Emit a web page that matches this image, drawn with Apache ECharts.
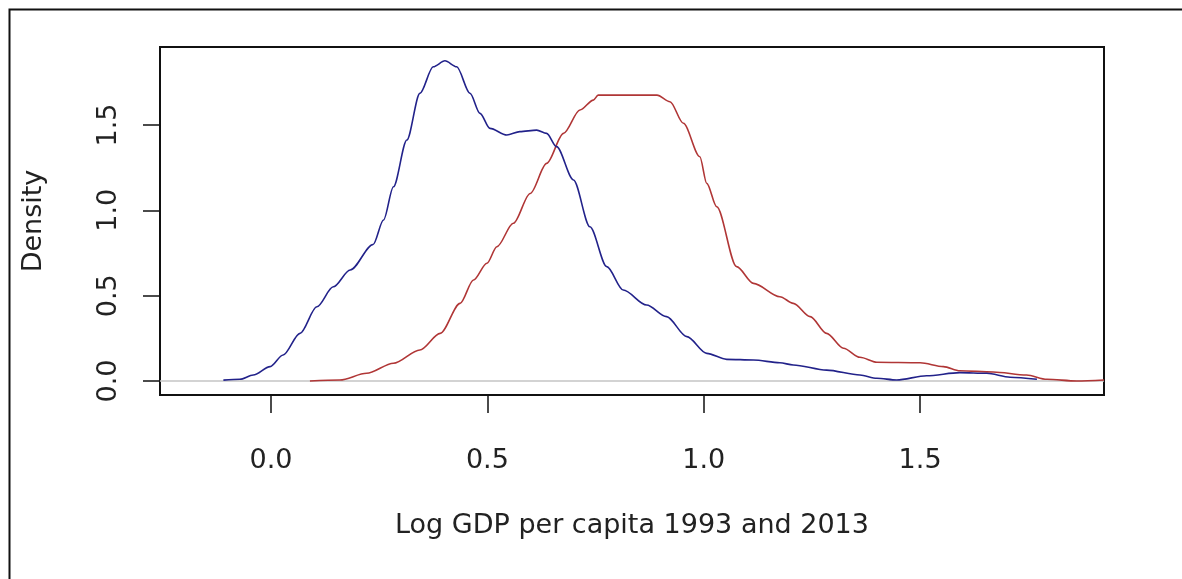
<!DOCTYPE html>
<html><head><meta charset="utf-8">
<script src="https://cdn.jsdelivr.net/npm/echarts@6/dist/echarts.min.js"></script>
<style>html,body{margin:0;padding:0;background:#fff}#c{width:1182px;height:579px}</style>
</head><body><div id="c"></div>
<script>
const xTicks = [0, 0.5, 1.0, 1.5];
const yTicks = [0, 0.5, 1.0, 1.5];
const xTitle = 'Log GDP per capita 1993 and 2013';
const yTitle = 'Density';

const blueX = [-0.110, -0.072, -0.041, -0.002, 0.028, 0.067, 0.106, 0.144, 0.183, 0.236, 0.260, 0.283, 0.314, 0.344, 0.375, 0.402, 0.429, 0.460, 0.483, 0.506, 0.545, 0.575, 0.614, 0.637, 0.660, 0.699, 0.737, 0.776, 0.814, 0.868, 0.914, 0.961, 1.007, 1.053, 1.115, 1.176, 1.207, 1.284, 1.361, 1.400, 1.446, 1.515, 1.592, 1.654, 1.708, 1.770];
const blueY = [0.005, 0.010, 0.035, 0.084, 0.152, 0.279, 0.435, 0.552, 0.650, 0.800, 0.943, 1.138, 1.412, 1.685, 1.841, 1.876, 1.841, 1.685, 1.568, 1.480, 1.441, 1.461, 1.470, 1.451, 1.373, 1.178, 0.904, 0.670, 0.533, 0.445, 0.377, 0.260, 0.162, 0.127, 0.123, 0.107, 0.094, 0.064, 0.035, 0.016, 0.006, 0.031, 0.049, 0.045, 0.022, 0.010];

const redX = [0.090, 0.159, 0.221, 0.283, 0.344, 0.391, 0.437, 0.468, 0.499, 0.522, 0.560, 0.599, 0.637, 0.676, 0.714, 0.745, 0.756, 0.892, 0.922, 0.953, 0.991, 1.007, 1.030, 1.076, 1.115, 1.176, 1.207, 1.246, 1.284, 1.323, 1.361, 1.400, 1.500, 1.554, 1.592, 1.669, 1.746, 1.793, 1.862, 1.925];
const redY = [0.000, 0.006, 0.045, 0.104, 0.182, 0.279, 0.455, 0.592, 0.690, 0.787, 0.924, 1.099, 1.275, 1.451, 1.588, 1.646, 1.675, 1.675, 1.636, 1.510, 1.314, 1.158, 1.021, 0.670, 0.572, 0.494, 0.455, 0.377, 0.279, 0.192, 0.139, 0.110, 0.107, 0.084, 0.060, 0.053, 0.035, 0.010, 0.000, 0.006];

const pairs = (xs, ys) => xs.map((x, i) => [x, ys[i]]);
const font = 'DejaVu Sans, Liberation Sans, sans-serif';
const chart = echarts.init(document.getElementById('c'), null, {renderer: 'canvas'});
chart.setOption({
  animation: false,
  backgroundColor: '#fff',
  graphic: [{
    type: 'rect', left: 7, top: 7, shape: {x: 0, y: 0, width: 1200, height: 600},
    style: {fill: 'none', stroke: '#111', lineWidth: 2}, silent: true, z: -1
  }],
  grid: {left: 160, top: 47, right: 78, bottom: 184, show: true, borderColor: '#111', borderWidth: 2, backgroundColor: 'transparent'},
  xAxis: {
    type: 'value', min: -0.2565, max: 1.925,
    name: xTitle, nameLocation: 'middle', nameGap: 117,
    nameTextStyle: {fontFamily: font, fontSize: 27, color: '#222'},
    axisLine: {show: true, onZero: false, lineStyle: {color: '#111', width: 2}},
    axisTick: {show: true, inside: false, length: 18, customValues: xTicks, lineStyle: {color: '#111', width: 1.5}},
    axisLabel: {customValues: xTicks, formatter: v => v.toFixed(1), fontFamily: font, fontSize: 27, color: '#222', margin: 52},
    splitLine: {show: false}
  },
  yAxis: {
    type: 'value', min: -0.082, max: 1.957,
    name: yTitle, nameLocation: 'middle', nameGap: 113, nameRotate: 90,
    nameTextStyle: {fontFamily: font, fontSize: 27, color: '#222'},
    axisLine: {show: true, onZero: false, lineStyle: {color: '#111', width: 2}},
    axisTick: {show: true, inside: false, length: 17, customValues: yTicks, lineStyle: {color: '#111', width: 1.5}},
    axisLabel: {customValues: yTicks, formatter: v => v.toFixed(1), rotate: 90, fontFamily: font, fontSize: 27, color: '#222', margin: 38},
    splitLine: {show: false}
  },
  series: [{
    name: '1993', type: 'line', data: pairs(blueX, blueY), showSymbol: false, symbol: 'none',
    smooth: 0.3, smoothMonotone: 'x', lineStyle: {color: '#22228a', width: 1.6}, z: 3,
    markLine: {silent: true, symbol: 'none', label: {show: false}, lineStyle: {color: '#c4c4c4', type: 'solid', width: 1.5}, data: [{yAxis: 0}], z: 1}
  }, {
    name: '2013', type: 'line', data: pairs(redX, redY), showSymbol: false, symbol: 'none',
    smooth: 0.3, smoothMonotone: 'x', lineStyle: {color: '#b03636', width: 1.6}, z: 2
  }]
});
</script></body></html>
